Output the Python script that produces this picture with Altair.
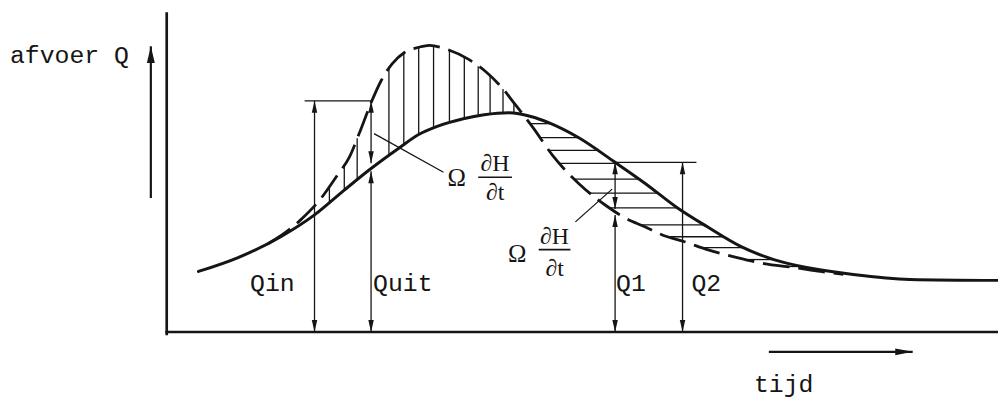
import altair as alt
import numpy as np
import pandas as pd

# ---------------- data (t = tijd, Q = afvoer, diagram units) ----------------
# uitstroom Quit (solid curve)
out_t = [32, 72, 115, 149, 179, 205, 235, 254, 272, 299, 320, 345, 368, 385, 415,
         452, 482, 515, 545, 579, 612, 645, 692, 749, 838]
out_q = [61, 75, 96, 118, 143, 164, 186, 199, 207, 215, 219, 221, 217, 211, 196,
         171, 150, 125, 106, 86, 73, 65, 58, 53, 52]

# instroom Qin (dashed curve)
in_t = [102, 115, 135, 155, 172, 184, 194, 206, 216, 227, 240, 254, 265, 279, 304,
        322, 339, 350, 370, 389, 400, 415, 430, 442, 462, 482, 499, 522, 545, 575,
        602, 632, 659, 682]
in_q = [89, 97, 113, 134, 158, 176, 200, 231, 253, 270, 282, 287, 289, 286, 275,
        262, 245, 231, 205, 178, 165, 150, 137, 128, 115, 106, 98, 91, 83, 75,
        69, 65, 61, 58]

# hatching: vertical lines on the rising limb, horizontal lines on the falling limb
vert_hatch_t = [164, 179, 192, 224, 239, 254, 269, 285, 300, 314, 326, 339, 350]
horiz_hatch_q = [210, 196, 183, 170, 154, 140, 125, 108, 96, 85, 73, 66]

# double-headed arrows: time, lower Q, upper Q
arrow_t = [149, 206, 206, 452, 452, 520]
arrow_lo = [0, 170, 0, 124, 0, 0]
arrow_hi = [233, 233, 162, 171, 118, 171]

# level lines (horizontal)
level_t1 = [139, 452]
level_t2 = [207, 534]
level_q = [233, 171]

# leader lines to the Omega dH/dt labels
leader_t1 = [209, 412]
leader_q1 = [200, 111]
leader_t2 = [279, 449]
leader_q2 = [161, 144]

# axes
axis_t_max = 838
axis_q_min = -2
axis_q_max = 321

# direction arrows beside the axes
qarrow_t = -16
qarrow_q = [135, 288]
tarrow_q = -20
tarrow_t = [607, 752]

# text labels
label_text = ["afvoer Q", "Qin", "Quit", "Q1", "Q2", "tijd"]
label_t = [-158, 84, 208, 453, 529, 592]
label_q = [271, 41, 41, 41, 41, -61]

# Omega dH/dt labels
omega_t = [283, 344]
omega_q = [147, 71]
frac_t = [331, 391]
frac_num_q = [162, 89]
frac_bar_q = [156, 83]
frac_den_q = [133, 56]
frac_bar_t1 = [314, 375]
frac_bar_t2 = [348, 407]

# ---------------- construction ----------------
W, H = 998, 393
xs = alt.Scale(domain=[-160, 838], nice=False, zero=False)
ys = alt.Scale(domain=[-68, 325], nice=False, zero=False)


def X(f):
    return alt.X(f, type="quantitative", scale=xs, axis=None)


def Y(f):
    return alt.Y(f, type="quantitative", scale=ys, axis=None)


curve_out = pd.DataFrame({"t": out_t, "q": out_q})
curve_in = pd.DataFrame({"t": in_t, "q": in_q})

# hatch endpoints constructed on the two curves
vt = np.array(vert_hatch_t, dtype=float)
v_lo = np.interp(vt, out_t, out_q)
v_hi = np.interp(vt, in_t, in_q)
hatch_v = pd.DataFrame({"x1": vt, "y1": v_lo, "x2": vt, "y2": v_hi})

i_peak_out = int(np.argmax(out_q))
i_peak_in = int(np.argmax(in_q))
fo_t = np.array(out_t[i_peak_out:], float)[::-1]
fo_q = np.array(out_q[i_peak_out:], float)[::-1]
fi_t = np.array(in_t[i_peak_in:], float)[::-1]
fi_q = np.array(in_q[i_peak_in:], float)[::-1]
hq = np.array(horiz_hatch_q, dtype=float)
hatch_h = pd.DataFrame({"x1": np.interp(hq, fi_q, fi_t), "y1": hq,
                        "x2": np.interp(hq, fo_q, fo_t), "y2": hq})

hatch = pd.concat([hatch_v, hatch_h], ignore_index=True)

shafts = pd.DataFrame({"x1": arrow_t, "y1": arrow_lo, "x2": arrow_t, "y2": arrow_hi})
levels = pd.DataFrame({"x1": level_t1, "y1": level_q, "x2": level_t2, "y2": level_q})
leaders = pd.DataFrame({"x1": leader_t1, "y1": leader_q1, "x2": leader_t2, "y2": leader_q2})
thin = pd.concat([shafts, levels, leaders], ignore_index=True)

bars = pd.DataFrame({"x1": frac_bar_t1, "y1": frac_bar_q, "x2": frac_bar_t2, "y2": frac_bar_q})

axes = pd.DataFrame({"x1": [0, 0], "y1": [axis_q_min, 0],
                     "x2": [0, axis_t_max], "y2": [axis_q_max, 0]})
dir_arrows = pd.DataFrame({"x1": [qarrow_t, tarrow_t[0]], "y1": [qarrow_q[0], tarrow_q],
                           "x2": [qarrow_t, tarrow_t[1]], "y2": [qarrow_q[1], tarrow_q]})

heads_up = pd.DataFrame({"t": arrow_t, "q": arrow_hi})
heads_down = pd.DataFrame({"t": arrow_t, "q": arrow_lo})
head_qaxis = pd.DataFrame({"t": [qarrow_t], "q": [qarrow_q[1]]})
head_taxis = pd.DataFrame({"t": [tarrow_t[1]], "q": [tarrow_q]})

labels = pd.DataFrame({"t": label_t, "q": label_q, "txt": label_text})
omegas = pd.DataFrame({"t": omega_t, "q": omega_q, "txt": ["Ω"] * len(omega_t)})
nums = pd.DataFrame({"t": frac_t, "q": frac_num_q, "txt": ["∂H"] * len(frac_t)})
dens = pd.DataFrame({"t": frac_t, "q": frac_den_q, "txt": ["∂t"] * len(frac_t)})

INK = "#151515"


def rules(df, width, cap="butt"):
    return alt.Chart(df).mark_rule(color=INK, strokeWidth=width, strokeCap=cap).encode(
        x=X("x1"), y=Y("y1"), x2=alt.X2("x2"), y2=alt.Y2("y2"))


def heads(df, path, size):
    return alt.Chart(df).mark_point(filled=True, shape=path, size=size, color=INK,
                                    opacity=1, strokeWidth=0).encode(x=X("t"), y=Y("q"))


def texts(df, font, size, align):
    return alt.Chart(df).mark_text(font=font, fontSize=size, align=align,
                                   baseline="alphabetic", color=INK).encode(
        x=X("t"), y=Y("q"), text="txt:N")


UP = "M0,0L0.5,2.2L-0.5,2.2Z"
DOWN = "M0,0L0.5,-2.2L-0.5,-2.2Z"
UP_BIG = "M0,0L0.5,2.1L-0.5,2.1Z"
RIGHT_BIG = "M0,0L-2.2,0.42L-2.2,-0.42Z"

solid = alt.Chart(curve_out).mark_line(color=INK, strokeWidth=3, interpolate="monotone",
                                       strokeCap="round").encode(x=X("t"), y=Y("q"))
dashed = alt.Chart(curve_in).mark_line(color=INK, strokeWidth=2.8, interpolate="monotone",
                                       strokeDash=[27, 9]).encode(x=X("t"), y=Y("q"))

chart = alt.layer(
    rules(hatch, 1.3),
    rules(thin, 1.3),
    rules(bars, 1.6),
    rules(axes, 2.7, "square"),
    rules(dir_arrows, 2.2),
    solid,
    dashed,
    heads(heads_up, UP, 121),
    heads(heads_down, DOWN, 121),
    heads(head_qaxis, UP_BIG, 256),
    heads(head_taxis, RIGHT_BIG, 256),
    texts(labels, "Liberation Mono", 25, "left"),
    texts(omegas, "Liberation Serif", 25, "left"),
    texts(nums, "Liberation Serif", 24, "center"),
    texts(dens, "Liberation Serif", 24, "center"),
).properties(
    width=W, height=H, padding=0, autosize="none", background="white"
).configure_view(stroke=None)

chart.save("out.html", embed_options={"renderer": "svg", "actions": False})
